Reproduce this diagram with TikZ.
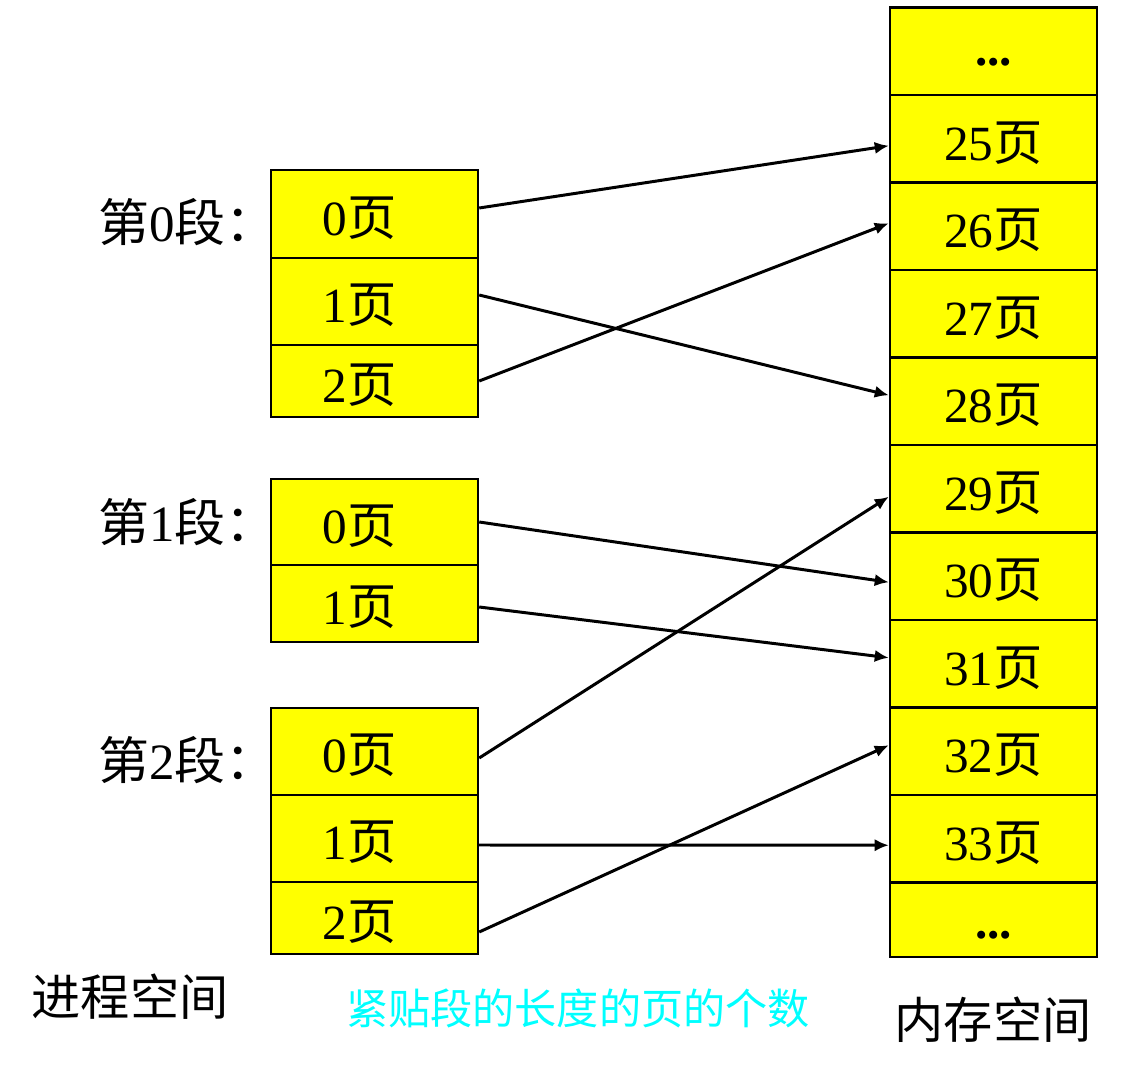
\documentclass[tikz,border=0pt]{standalone}
\usepackage{fontspec}
\setmainfont{Liberation Serif}
\newfontfamily\cjk{Noto Sans CJK SC}
\usetikzlibrary{arrows.meta,positioning}
\definecolor{pageyellow}{RGB}{255,255,0}
\definecolor{notecyan}{RGB}{0,255,255}

\begin{document}
\begin{tikzpicture}[x=0.02cm,y=-0.02cm,
    cell/.style={draw,line width=1.4pt,fill=pageyellow,minimum width=4.14cm,minimum height=1.75cm,inner sep=0pt,
        text height=0.96cm,text depth=0.1cm,font=\fontsize{28}{30}\selectfont},
    pcell/.style={cell,execute at end node=\hspace*{0.6cm}},
    dots/.style={cell,font=\fontsize{28}{30}\selectfont\bfseries},
    seglabel/.style={anchor=west,inner sep=0pt,font=\fontsize{29}{32}\selectfont},
    caption/.style={inner sep=0pt,font=\fontsize{28}{30}\selectfont\cjk},
    arr/.style={-{Latex[length=8pt,width=7pt]},line width=1.7pt}
]
\useasboundingbox (0,0) rectangle (1123,1077);

% memory space
\node[dots,text height=0.66cm] (mtop) at (993.5,51.25) {...};
\node[cell] (m25) at (993.5,138.75) {25{\cjk 页}};
\node[cell] (m26) at (993.5,226.25) {26{\cjk 页}};
\node[cell] (m27) at (993.5,313.75) {27{\cjk 页}};
\node[cell] (m28) at (993.5,401.25) {28{\cjk 页}};
\node[cell] (m29) at (993.5,488.75) {29{\cjk 页}};
\node[cell] (m30) at (993.5,576.25) {30{\cjk 页}};
\node[cell] (m31) at (993.5,663.75) {31{\cjk 页}};
\node[cell] (m32) at (993.5,751.25) {32{\cjk 页}};
\node[cell] (m33) at (993.5,838.75) {33{\cjk 页}};
\node[dots,minimum height=1.49cm,text height=0.86cm] (mbot) at (993.5,919.75) {...};

% segment 0
\node[pcell,minimum height=1.76cm] (s0p0) at (374.5,214) {0{\cjk 页}};
\node[pcell,minimum height=1.74cm] (s0p1) at (374.5,301.5) {1{\cjk 页}};
\node[pcell,minimum height=1.44cm] (s0p2) at (374.5,381) {2{\cjk 页}};
\node[seglabel] (l0) at (98,222) {{\cjk 第}0{\cjk 段：}};

% segment 1
\node[pcell,minimum height=1.72cm] (s1p0) at (374.5,522) {0{\cjk 页}};
\node[pcell,minimum height=1.54cm] (s1p1) at (374.5,603.5) {1{\cjk 页}};
\node[seglabel] (l1) at (98,522) {{\cjk 第}1{\cjk 段：}};

% segment 2
\node[pcell,minimum height=1.74cm] (s2p0) at (374.5,751.5) {0{\cjk 页}};
\node[pcell,minimum height=1.74cm] (s2p1) at (374.5,838.5) {1{\cjk 页}};
\node[pcell,minimum height=1.44cm] (s2p2) at (374.5,918) {2{\cjk 页}};
\node[seglabel] (l2) at (98,760) {{\cjk 第}2{\cjk 段：}};

% mapping
\draw[arr] ([yshift=0.12cm]s0p0.east) -- ([yshift=-0.14cm]m25.west);
\draw[arr] ([yshift=0.13cm]s0p1.east) -- ([yshift=0.12cm]m28.west);
\draw[arr] (s0p2.east) -- ([yshift=0.06cm]m26.west);
\draw[arr] (s1p0.east) -- ([yshift=-0.12cm]m30.west);
\draw[arr] ([yshift=-0.07cm]s1p1.east) -- ([yshift=0.12cm]m31.west);
\draw[arr] ([yshift=-0.13cm]s2p0.east) -- ([yshift=-0.16cm]m29.west);
\draw[arr] ([yshift=-0.13cm]s2p1.east) -- ([yshift=-0.13cm]m33.west);
\draw[arr] ([yshift=-0.28cm]s2p2.east) -- ([yshift=0.12cm]m32.west);

\node[caption] (proc) at (130,997) {进程空间};
\node[caption,text=notecyan,font=\fontsize{24}{26}\selectfont\cjk] (note) at (578,1008) {紧贴段的长度的页的个数};
\node[caption] (mem) at (993,1020) {内存空间};
\end{tikzpicture}
\end{document}
